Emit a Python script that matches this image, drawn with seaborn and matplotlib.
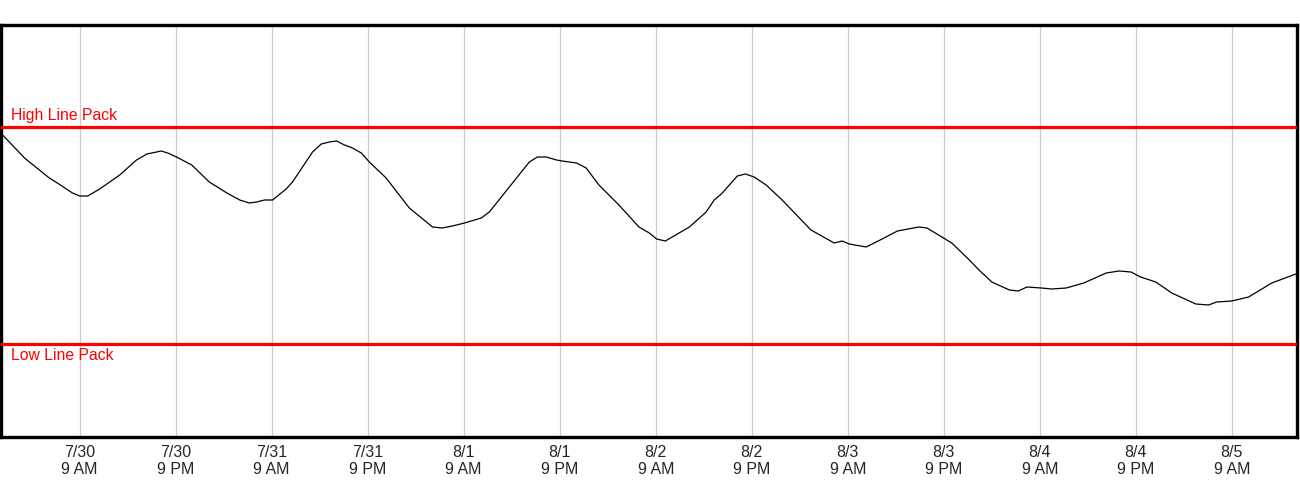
import pandas as pd
import matplotlib
matplotlib.use("Agg")
import matplotlib.pyplot as plt
import seaborn as sns

# hours after 7/29 11 PM
hours = [0.25, 3.1, 6.2, 7.2, 9.1, 10, 11, 12.5, 15, 17.1, 18.4, 20.2, 21, 22.1, 24,
         26.2, 28.4, 30, 31.2, 32.1, 33.1, 34.1, 35.8, 36.6, 39.1, 40.2, 41.2, 42.1,
         43.1, 44.1, 45.2, 46.2, 48.3, 51.2, 54.1, 55.3, 56.6, 58.1, 60.2, 61.2, 63.7,
         66.2, 67.2, 68.3, 69.6, 70.3, 72.1, 73.3, 74.9, 77.4, 79.9, 81.2, 82.1, 83.2,
         86.2, 88.3, 89.3, 90.2, 92.2, 93.2, 94.3, 95.8, 97.8, 101.4, 104.3, 105.3,
         106.2, 108.3, 110.3, 112.2, 114.9, 115.9, 119, 121.2, 122.4, 124, 126.2, 127.3,
         128.4, 130.2, 131.5, 133.3, 135.5, 138.3, 139.9, 141.4, 142.6, 144.5, 146.5,
         149.5, 151.1, 152.1, 154, 156.1, 159, 162]
linepack = [303, 279, 259, 254, 244, 241, 241, 248, 262, 277, 283, 286, 284, 280, 272,
            255, 244, 237, 234, 235, 237, 237, 248, 255, 285, 293, 295, 296,
            292, 289, 284, 275, 259, 229, 210, 209, 211, 214, 219, 225, 250,
            275, 280, 280, 277, 276, 274, 269, 252, 232, 210, 204, 198, 196,
            210, 225, 237, 243, 261, 263, 260, 252, 237, 207, 194, 196,
            193, 190, 198, 206, 210, 209, 194, 177, 167, 155, 147, 146,
            150, 149, 148, 149, 154, 164, 166, 165, 160, 155, 144, 133,
            132, 135, 136, 140, 154, 163]
high_pack = 310
low_pack = 93

start = pd.Timestamp("2019-07-29 23:00")
df = pd.DataFrame({"time": start + pd.to_timedelta(hours, unit="h"),
                   "linepack": linepack})

sns.set_style("white")
plt.rcParams['font.family'] = ['Liberation Sans', 'DejaVu Sans']

fig = plt.figure(figsize=(13, 5), dpi=100)
ax = fig.add_axes([0.001, 0.126, 0.997, 0.824])

# 网格线 每12小时
ticks = pd.date_range("2019-07-30 09:00", "2019-08-05 09:00", freq="12h")
for t in ticks:
    ax.axvline(t, color="#cccccc", lw=0.9, zorder=0)

sns.lineplot(data=df, x="time", y="linepack", color="black", lw=0.9, ax=ax)

ax.axhline(high_pack, color="#ff0000", lw=2.3, zorder=3)
ax.axhline(low_pack, color="#ff0000", lw=2.3, zorder=3)
ax.text(start + pd.Timedelta(hours=1.4), high_pack + 4, "High Line Pack",
        color="#ff0000", fontsize=11.3, va="bottom", ha="left")
ax.text(start + pd.Timedelta(hours=1.4), low_pack - 4, "Low Line Pack",
        color="#ff0000", fontsize=11.3, va="top", ha="left")

x0 = start + pd.Timedelta(hours=0.2)
ax.set_xlim(x0, x0 + pd.Timedelta(hours=162))
ax.set_ylim(0, 412)
ax.set_xticks(ticks)
ax.set_xticklabels([f"{t.month}/{t.day}\n{t.hour % 12 if t.hour % 12 else 12} {'AM' if t.hour < 12 else 'PM'}"
                    for t in ticks], fontsize=11.5, linespacing=1.1)
ax.set_yticks([])
ax.tick_params(axis="x", length=4, width=1, color="black", direction="out", pad=2)
ax.set_xlabel("")
ax.set_ylabel("")
for s in ax.spines.values():
    s.set_visible(True)
    s.set_color("black")
    s.set_linewidth(2.4)

fig.savefig("out.png", dpi=100)
